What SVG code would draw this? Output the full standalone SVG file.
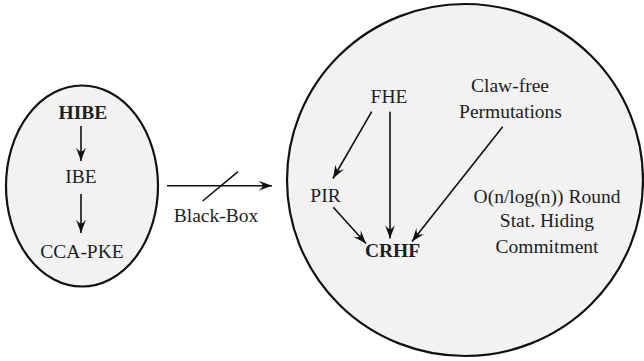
<svg xmlns="http://www.w3.org/2000/svg" width="644" height="361" viewBox="0 0 644 361">
<style>
.set{fill:#f2f2f2;stroke:#111;stroke-width:2.2}
.t{font-family:'Liberation Serif','DejaVu Serif',serif;font-size:19.5px;fill:#1e1e1e;text-anchor:middle}
.b{font-weight:bold}
.c{stroke:#111;stroke-width:1.6;fill:none}
</style>
<defs>
<marker id="ah" markerUnits="userSpaceOnUse" markerWidth="16" markerHeight="12" viewBox="-14 -6 16 12" refX="0" refY="0" orient="auto">
<path d="M0,0 L-13.5,-5 Q-9,-1.5 -9.5,0 Q-9,1.5 -13.5,5 Z" fill="#111"/>
</marker>
</defs>
<g id="left-set">
<ellipse class="set" cx="82" cy="186" rx="76" ry="100.5"/>
</g>
<g id="right-set">
<ellipse class="set" cx="465" cy="180" rx="178" ry="176"/>
</g>
<g font-family="Liberation Serif, DejaVu Serif, serif">
<g id="node-hibe"><text class="t b" x="83" y="119">HIBE</text></g>
<g id="node-ibe"><text class="t" x="81" y="183">IBE</text></g>
<g id="node-ccapke"><text class="t" x="82" y="258">CCA-PKE</text></g>
<g id="node-fhe"><text class="t" x="389" y="103">FHE</text></g>
<g id="node-claw"><text class="t" x="510" y="92">Claw-free</text><text class="t" x="510.5" y="117.5">Permutations</text></g>
<g id="node-pir"><text class="t" x="325.5" y="201.5">PIR</text></g>
<g id="node-crhf"><text class="t b" x="392.5" y="256.5">CRHF</text></g>
<g id="node-commit"><text class="t" x="547" y="203.3">O(n/log(n)) Round</text><text class="t" x="547" y="226.7">Stat. Hiding</text><text class="t" x="547" y="253.3">Commitment</text></g>
<g id="label-blackbox"><text class="t" x="216" y="221.7">Black-Box</text></g>
</g>
<g id="connectors">
<line class="c" x1="81" y1="126" x2="81" y2="161" marker-end="url(#ah)"/>
<line class="c" x1="81" y1="194" x2="81" y2="233" marker-end="url(#ah)"/>
<line class="c" x1="167" y1="185.7" x2="272" y2="185.7" marker-end="url(#ah)"/>
<line class="c" x1="202.7" y1="201" x2="238" y2="171.7"/>
<line class="c" x1="371.7" y1="111.7" x2="333" y2="178.5" marker-end="url(#ah)"/>
<line class="c" x1="390" y1="111.7" x2="390" y2="238.5" marker-end="url(#ah)"/>
<line class="c" x1="333.3" y1="207.3" x2="366" y2="243.5" marker-end="url(#ah)"/>
<line class="c" x1="502.7" y1="126.7" x2="412" y2="241.5" marker-end="url(#ah)"/>
</g>
</svg>
